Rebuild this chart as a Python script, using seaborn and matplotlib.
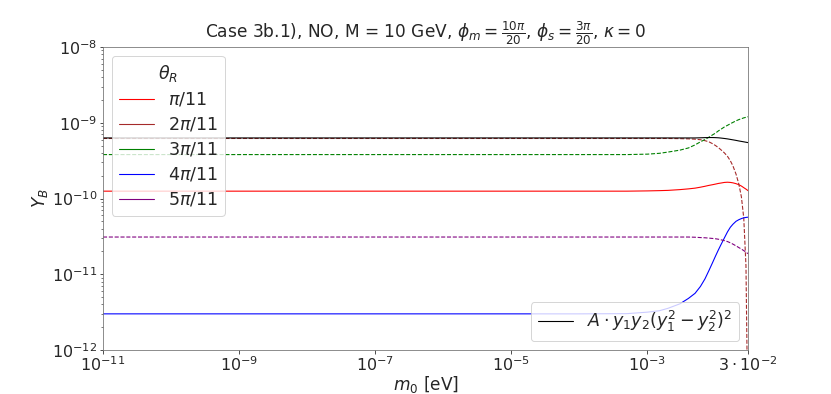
import pandas as pd
import matplotlib.pyplot as plt
from matplotlib.lines import Line2D
import seaborn as sns

# m0 grid [eV]
m0 = [1e-11, 1e-9, 1e-7, 1e-5, 1e-4, 5e-4, 1e-3, 1.5e-3, 2e-3, 3e-3,
      4e-3, 5e-3, 6e-3, 7e-3, 8e-3, 9e-3, 1e-2, 1.1e-2, 1.2e-2, 1.35e-2,
      1.5e-2, 1.65e-2, 1.8e-2, 2e-2, 2.2e-2, 2.4e-2, 2.6e-2, 2.8e-2, 2.9e-2, 3e-2]

# |Y_B| for each theta_R
yb_1 = [1.25e-10, 1.25e-10, 1.25e-10, 1.25e-10, 1.25e-10, 1.25e-10, 1.26e-10, 1.27e-10, 1.28e-10, 1.31e-10,
        1.34e-10, 1.37e-10, 1.41e-10, 1.45e-10, 1.49e-10, 1.52e-10, 1.55e-10, 1.58e-10, 1.60e-10, 1.63e-10,
        1.64e-10, 1.63e-10, 1.61e-10, 1.57e-10, 1.52e-10, 1.46e-10, 1.39e-10, 1.33e-10, 1.30e-10, 1.27e-10]
yb_3 = [3.8e-10, 3.8e-10, 3.8e-10, 3.8e-10, 3.8e-10, 3.8e-10, 3.85e-10, 3.95e-10, 4.1e-10, 4.35e-10,
        4.65e-10, 5.1e-10, 5.6e-10, 6.0e-10, 6.45e-10, 6.9e-10, 7.3e-10, 7.8e-10, 8.2e-10, 8.8e-10,
        9.25e-10, 9.7e-10, 1.01e-9, 1.06e-9, 1.1e-9, 1.13e-9, 1.16e-9, 1.18e-9, 1.19e-9, 1.2e-9]
yb_4 = [3.0e-12, 3.0e-12, 3.0e-12, 3.0e-12, 3.0e-12, 3.02e-12, 3.16e-12, 3.3e-12, 3.55e-12, 4.07e-12,
        4.8e-12, 5.6e-12, 6.9e-12, 8.7e-12, 1.12e-11, 1.41e-11, 1.74e-11, 2.09e-11, 2.45e-11, 3.02e-11,
        3.63e-11, 4.17e-11, 4.57e-11, 5.0e-11, 5.25e-11, 5.43e-11, 5.56e-11, 5.62e-11, 5.65e-11, 5.66e-11]
yb_5 = [3.1e-11, 3.1e-11, 3.1e-11, 3.1e-11, 3.1e-11, 3.1e-11, 3.1e-11, 3.1e-11, 3.1e-11, 3.1e-11,
        3.1e-11, 3.08e-11, 3.05e-11, 3.03e-11, 3.0e-11, 2.97e-11, 2.94e-11, 2.9e-11, 2.85e-11, 2.78e-11,
        2.7e-11, 2.6e-11, 2.5e-11, 2.37e-11, 2.25e-11, 2.15e-11, 2.05e-11, 1.96e-11, 1.91e-11, 1.87e-11]
yb_approx = [6.3e-10, 6.3e-10, 6.3e-10, 6.3e-10, 6.3e-10, 6.3e-10, 6.3e-10, 6.3e-10, 6.3e-10, 6.3e-10,
             6.3e-10, 6.3e-10, 6.33e-10, 6.36e-10, 6.38e-10, 6.38e-10, 6.36e-10, 6.33e-10, 6.28e-10, 6.2e-10,
             6.12e-10, 6.03e-10, 5.95e-10, 5.85e-10, 5.75e-10, 5.67e-10, 5.6e-10, 5.53e-10, 5.5e-10, 5.47e-10]

# 2pi/11 crosses zero just before 3e-2
m0_2 = [1e-11, 1e-9, 1e-7, 1e-5, 1e-4, 5e-4, 1e-3, 1.5e-3, 2e-3, 3e-3,
        4e-3, 5e-3, 6e-3, 7e-3, 8e-3, 9e-3, 1e-2, 1.1e-2, 1.2e-2, 1.35e-2,
        1.5e-2, 1.65e-2, 1.8e-2, 2e-2, 2.2e-2, 2.4e-2, 2.6e-2, 2.8e-2, 2.9e-2, 2.95e-2]
yb_2 = [6.2e-10, 6.2e-10, 6.2e-10, 6.2e-10, 6.2e-10, 6.2e-10, 6.2e-10, 6.2e-10, 6.2e-10, 6.17e-10,
        6.13e-10, 6.07e-10, 5.97e-10, 5.8e-10, 5.6e-10, 5.3e-10, 5.0e-10, 4.7e-10, 4.4e-10, 4.0e-10,
        3.6e-10, 3.15e-10, 2.7e-10, 2.1e-10, 1.55e-10, 1.05e-10, 5.5e-11, 1.3e-11, 1e-12, 1e-14]

labels = [r"$\pi/11$", r"$2\pi/11$", r"$3\pi/11$", r"$4\pi/11$", r"$5\pi/11$"]
colors = ["red", "brown", "green", "blue", "purple"]
styles = ["-", "--", "--", "-", "--"]
xs = [m0, m0_2, m0, m0, m0]
ys = [yb_1, yb_2, yb_3, yb_4, yb_5]

sns.set_style("ticks")

fig = plt.figure(figsize=(831 / 72, 394 / 72), dpi=72)
ax = fig.add_axes([103 / 831, 1 - 350 / 394, 645 / 831, 303 / 394])

for x, y, c, ls in zip(xs, ys, colors, styles):
    df = pd.DataFrame({"m0": x, "YB": y})
    sns.lineplot(data=df, x="m0", y="YB", color=c, linestyle=ls, linewidth=1.1, ax=ax)

df_a = pd.DataFrame({"m0": m0, "YB": yb_approx})
sns.lineplot(data=df_a, x="m0", y="YB", color="black", linewidth=1.1, ax=ax)

ax.set_xscale("log")
ax.set_yscale("log")
ax.set_xlim(1e-11, 3e-2)
ax.set_ylim(1e-12, 1e-8)
ax.set_xticks([1e-11, 1e-9, 1e-7, 1e-5, 1e-3, 3e-2])
ax.set_xticklabels([r"$10^{-11}$", r"$10^{-9}$", r"$10^{-7}$", r"$10^{-5}$",
                    r"$10^{-3}$", r"$3\cdot10^{-2}$"])
ax.xaxis.set_minor_locator(plt.NullLocator())
ax.tick_params(labelsize=16, pad=2)
for s in ax.spines.values():
    s.set_color("0.45")

ax.set_xlabel(r"$m_0$ [eV]", fontsize=17, labelpad=0)
ax.set_ylabel(r"$Y_B$", fontsize=17, labelpad=2)
ax.set_title(r"Case 3b.1), NO, M = 10 GeV, $\phi_m = \frac{10\pi}{20}$, "
             r"$\phi_s = \frac{3\pi}{20}$, $\kappa = 0$", fontsize=17)

# legends
handles = [Line2D([], [], color=c, lw=1.1) for c in colors]
leg1 = ax.legend(handles, labels, title=r"$\theta_R$", loc="upper left",
                 fontsize=17.5, title_fontsize=17.5, labelspacing=0.4)
ax.add_artist(leg1)
ax.legend([Line2D([], [], color="black", lw=1.1)],
          [r"$A\cdot y_1 y_2 (y_1^2 - y_2^2)^2$"], loc="lower right", fontsize=17.5)

fig.savefig("out.png", dpi=72)
